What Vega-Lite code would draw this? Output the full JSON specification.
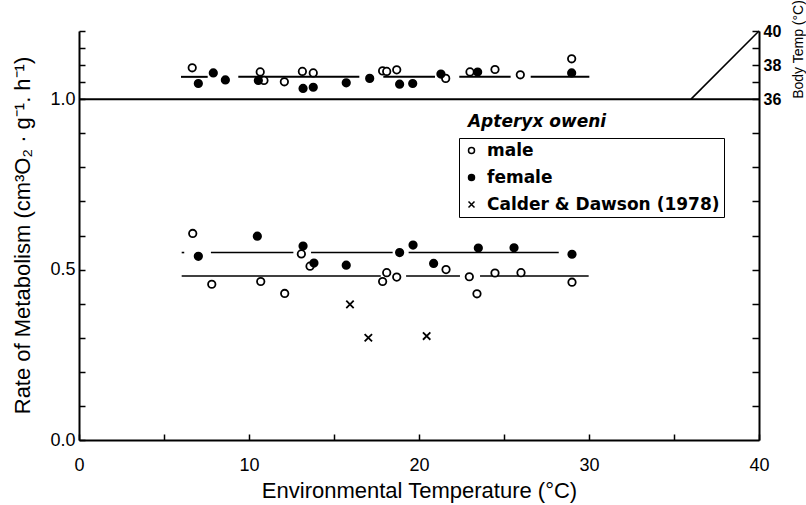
{
  "$schema": "https://vega.github.io/schema/vega-lite/v6.json",
  "width": 680,
  "height": 409,
  "autosize": {"type": "none"},
  "padding": {"left": 79, "top": 31, "right": 47, "bottom": 65},
  "datasets": {
    "upper": [
      {"t": 6.66, "tb": 37.84, "group": "male"},
      {"t": 10.66, "tb": 37.60, "group": "male"},
      {"t": 10.88, "tb": 37.10, "group": "male"},
      {"t": 12.08, "tb": 37.02, "group": "male"},
      {"t": 13.14, "tb": 37.63, "group": "male"},
      {"t": 13.78, "tb": 37.54, "group": "male"},
      {"t": 17.86, "tb": 37.66, "group": "male"},
      {"t": 18.10, "tb": 37.63, "group": "male"},
      {"t": 18.69, "tb": 37.72, "group": "male"},
      {"t": 21.57, "tb": 37.22, "group": "male"},
      {"t": 23.00, "tb": 37.60, "group": "male"},
      {"t": 24.47, "tb": 37.74, "group": "male"},
      {"t": 25.96, "tb": 37.43, "group": "male"},
      {"t": 28.98, "tb": 38.37, "group": "male"},
      {"t": 7.02, "tb": 36.92, "group": "female"},
      {"t": 7.90, "tb": 37.54, "group": "female"},
      {"t": 8.61, "tb": 37.13, "group": "female"},
      {"t": 10.55, "tb": 37.10, "group": "female"},
      {"t": 13.18, "tb": 36.63, "group": "female"},
      {"t": 13.78, "tb": 36.70, "group": "female"},
      {"t": 15.72, "tb": 36.96, "group": "female"},
      {"t": 17.10, "tb": 37.22, "group": "female"},
      {"t": 18.86, "tb": 36.88, "group": "female"},
      {"t": 19.63, "tb": 36.92, "group": "female"},
      {"t": 21.29, "tb": 37.47, "group": "female"},
      {"t": 23.45, "tb": 37.59, "group": "female"},
      {"t": 28.98, "tb": 37.54, "group": "female"}
    ],
    "upperMean": [
      {"t": 6.0, "t2": 7.57, "tb": 37.31},
      {"t": 9.37, "t2": 16.49, "tb": 37.31},
      {"t": 17.9, "t2": 20.94, "tb": 37.31},
      {"t": 22.37, "t2": 25.39, "tb": 37.31},
      {"t": 26.57, "t2": 30.02, "tb": 37.31}
    ],
    "diag": [
      {"t": 36, "tb": 36},
      {"t": 40, "tb": 40}
    ],
    "lower": [
      {"t": 6.69, "rate": 0.606, "group": "male"},
      {"t": 7.81, "rate": 0.457, "group": "male"},
      {"t": 10.69, "rate": 0.465, "group": "male"},
      {"t": 12.10, "rate": 0.430, "group": "male"},
      {"t": 13.08, "rate": 0.546, "group": "male"},
      {"t": 13.59, "rate": 0.510, "group": "male"},
      {"t": 17.86, "rate": 0.465, "group": "male"},
      {"t": 18.10, "rate": 0.491, "group": "male"},
      {"t": 18.69, "rate": 0.478, "group": "male"},
      {"t": 21.59, "rate": 0.500, "group": "male"},
      {"t": 22.96, "rate": 0.479, "group": "male"},
      {"t": 23.41, "rate": 0.429, "group": "male"},
      {"t": 24.47, "rate": 0.490, "group": "male"},
      {"t": 26.00, "rate": 0.491, "group": "male"},
      {"t": 29.00, "rate": 0.463, "group": "male"},
      {"t": 7.02, "rate": 0.539, "group": "female"},
      {"t": 10.49, "rate": 0.598, "group": "female"},
      {"t": 13.18, "rate": 0.569, "group": "female"},
      {"t": 13.82, "rate": 0.519, "group": "female"},
      {"t": 15.72, "rate": 0.513, "group": "female"},
      {"t": 18.86, "rate": 0.550, "group": "female"},
      {"t": 19.65, "rate": 0.572, "group": "female"},
      {"t": 20.86, "rate": 0.518, "group": "female"},
      {"t": 23.49, "rate": 0.563, "group": "female"},
      {"t": 25.59, "rate": 0.564, "group": "female"},
      {"t": 29.00, "rate": 0.545, "group": "female"},
      {"t": 15.94, "rate": 0.398, "group": "Calder & Dawson (1978)"},
      {"t": 17.02, "rate": 0.300, "group": "Calder & Dawson (1978)"},
      {"t": 20.45, "rate": 0.305, "group": "Calder & Dawson (1978)"}
    ],
    "lowerMean": [
      {"t": 6.04, "t2": 6.19, "rate": 0.550, "sex": "female"},
      {"t": 7.76, "t2": 12.61, "rate": 0.550, "sex": "female"},
      {"t": 13.65, "t2": 18.45, "rate": 0.550, "sex": "female"},
      {"t": 19.39, "t2": 28.22, "rate": 0.550, "sex": "female"},
      {"t": 6.04, "t2": 17.75, "rate": 0.481, "sex": "male"},
      {"t": 19.24, "t2": 22.41, "rate": 0.481, "sex": "male"},
      {"t": 23.59, "t2": 29.98, "rate": 0.481, "sex": "male"}
    ],
    "baseline": [
      {"t": 0, "t2": 40, "rate": 1.0}
    ],
    "midTicks": [
      {"t": 5}, {"t": 10}, {"t": 15}, {"t": 20}, {"t": 25}, {"t": 30}, {"t": 35}
    ],
    "species": [
      {"t": 22.88, "rate": 0.932, "label": "Apteryx oweni"}
    ]
  },
  "encoding": {
    "x": {
      "field": "t",
      "type": "quantitative",
      "scale": {"domain": [0, 40], "nice": false, "zero": false},
      "axis": {
        "title": "Environmental Temperature (°C)",
        "values": [0, 5, 10, 15, 20, 25, 30, 35, 40],
        "labelExpr": "datum.value % 10 == 0 ? datum.label : ''",
        "labelFontSize": 18,
        "labelBaseline": "middle",
        "labelPadding": 31,
        "titleFontSize": 22,
        "titleY": 50,
        "titleBaseline": "middle"
      }
    }
  },
  "layer": [
    {
      "encoding": {
        "y": {
          "field": "rate",
          "type": "quantitative",
          "scale": {"domain": [0, 1.2], "nice": false, "zero": false},
          "axis": {
            "orient": "left",
            "title": "Rate of Metabolism  (cm³O₂ · g⁻¹. h⁻¹)",
            "values": [0, 0.1, 0.2, 0.3, 0.4, 0.5, 0.6, 0.7, 0.8, 0.9, 1.0, 1.05, 1.1, 1.15, 1.2],
            "format": ".1f",
            "labelExpr": "(datum.value == 0 || datum.value == 0.5 || datum.value == 1) ? datum.label : ''",
            "labelFontSize": 18,
            "labelPadding": 10,
            "titleFontSize": 22,
            "titleX": -57,
            "titleY": 204,
            "titleAngle": -90,
            "titleAlign": "center",
            "titleBaseline": "middle"
          }
        }
      },
      "layer": [
        {
          "data": {"name": "baseline"},
          "mark": {"type": "rule", "stroke": "black", "strokeWidth": 2},
          "encoding": {"x2": {"field": "t2"}}
        },
        {
          "data": {"name": "midTicks"},
          "mark": {"type": "tick", "orient": "vertical", "size": 7, "thickness": 1.5, "color": "black", "opacity": 1},
          "encoding": {"y": {"datum": 1.0}}
        },
        {
          "data": {"name": "lowerMean"},
          "mark": {"type": "rule", "stroke": "black", "strokeWidth": 1.6},
          "encoding": {"x2": {"field": "t2"}}
        },
        {
          "data": {"name": "lower"},
          "mark": {"type": "point", "filled": true, "stroke": "black", "strokeWidth": 1.8, "size": 55, "opacity": 1},
          "encoding": {
            "shape": {
              "field": "group",
              "type": "nominal",
              "scale": {
                "domain": ["male", "female", "Calder & Dawson (1978)"],
                "range": ["circle", "circle", "M-1,-1L1,1M-1,1L1,-1"]
              },
              "legend": {
                "title": null,
                "orient": "none",
                "legendX": 380,
                "legendY": 107,
                "direction": "vertical",
                "symbolStrokeColor": "black",
                "symbolStrokeWidth": 1.5,
                "encode": {
                  "symbols": {
                    "update": {
                      "stroke": {"value": "black"},
                      "strokeWidth": {"value": 1.5},
                      "opacity": {"value": 1}
                    }
                  }
                }
              }
            },
            "fill": {
              "field": "group",
              "type": "nominal",
              "scale": {
                "domain": ["male", "female", "Calder & Dawson (1978)"],
                "range": ["white", "black", "black"]
              },
              "legend": {
                "title": null,
                "orient": "none",
                "legendX": 380,
                "legendY": 107,
                "direction": "vertical",
                "symbolStrokeColor": "black",
                "symbolStrokeWidth": 1.5,
                "encode": {
                  "symbols": {
                    "update": {
                      "stroke": {"value": "black"},
                      "strokeWidth": {"value": 1.5},
                      "opacity": {"value": 1}
                    }
                  }
                }
              }
            }
          }
        },
        {
          "data": {"name": "species"},
          "mark": {"type": "text", "font": "DejaVu Sans", "fontStyle": "italic", "fontWeight": "bold", "fontSize": 17, "align": "left", "baseline": "middle", "fill": "black"},
          "encoding": {
            "text": {"field": "label", "type": "nominal"}
          }
        }
      ]
    },
    {
      "encoding": {
        "y": {
          "field": "tb",
          "type": "quantitative",
          "scale": {"domain": [16, 40], "nice": false, "zero": false},
          "axis": {
            "orient": "right",
            "title": "Body Temp (°C)",
            "values": [18, 20, 22, 24, 26, 28, 30, 32, 34, 36, 37, 38, 39, 40],
            "labelExpr": "(datum.value >= 36 && datum.value % 2 == 0) ? datum.label : ''",
            "labelFontSize": 16,
            "labelFontWeight": "bold",
            "labelPadding": 11,
            "tickSize": -7,
            "titleFontSize": 14,
            "titleX": 39,
            "titleY": 18,
            "titleAngle": -90,
            "titleAlign": "center",
            "titleBaseline": "middle"
          }
        }
      },
      "layer": [
        {
          "data": {"name": "diag"},
          "mark": {"type": "line", "stroke": "black", "strokeWidth": 1.6},
          "encoding": {}
        },
        {
          "data": {"name": "upperMean"},
          "mark": {"type": "rule", "stroke": "black", "strokeWidth": 2},
          "encoding": {"x2": {"field": "t2"}}
        },
        {
          "data": {"name": "upper"},
          "mark": {"type": "point", "filled": true, "stroke": "black", "strokeWidth": 1.8, "size": 55, "opacity": 1},
          "encoding": {
            "shape": {"field": "group", "type": "nominal"},
            "fill": {"field": "group", "type": "nominal"}
          }
        }
      ]
    }
  ],
  "resolve": {"scale": {"y": "independent"}, "axis": {"y": "independent"}},
  "config": {
    "view": {"stroke": null},
    "font": "Liberation Sans",
    "axis": {
      "grid": false,
      "domainColor": "black",
      "domainWidth": 2,
      "tickColor": "black",
      "tickWidth": 1.5,
      "tickSize": -6,
      "labelColor": "black",
      "titleColor": "black",
      "labelFont": "Liberation Sans",
      "titleFont": "Liberation Sans",
      "titleFontWeight": "normal",
      "labelOverlap": false,
      "labelFlush": false,
      "labelBound": false
    },
    "legend": {
      "padding": 4,
      "strokeColor": "black",
      "fillColor": "white",
      "labelFont": "DejaVu Sans",
      "labelFontWeight": "bold",
      "labelFontSize": 17,
      "labelColor": "black",
      "symbolSize": 36,
      "symbolStrokeColor": "black",
      "symbolStrokeWidth": 1.5,
      "symbolOpacity": 1,
      "rowPadding": 9,
      "labelOffset": 7,
      "labelLimit": 400
    }
  }
}
